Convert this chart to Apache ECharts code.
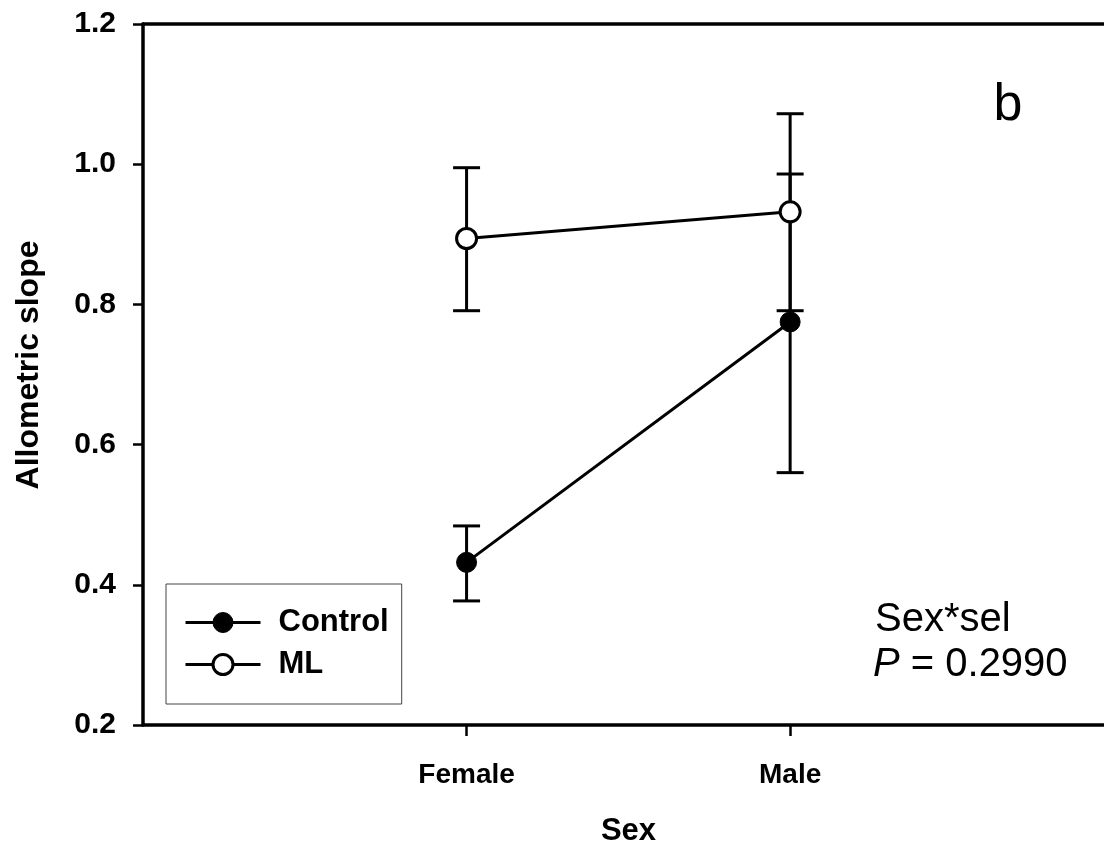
<!DOCTYPE html>
<html><head><meta charset="utf-8">
<script src="https://cdn.jsdelivr.net/npm/echarts@6/dist/echarts.min.js"></script>
<style>html,body{margin:0;padding:0;background:#fff}#c{width:1104px;height:852px}</style>
</head><body><div id="c"></div>
<script>
const categories = ['Female', 'Male'];
const seriesNames = ['Control', 'ML'];
const controlMean = [0.432, 0.775];
const controlLow = [0.377, 0.560];
const controlHigh = [0.484, 0.986];
const mlMean = [0.894, 0.932];
const mlLow = [0.791, 0.791];
const mlHigh = [0.995, 1.072];
const yMin = 0.2, yMax = 1.2, yStep = 0.2;
const xLabel = 'Sex';
const yLabel = 'Allometric slope';
const panelLetter = 'b';
const statLine1 = 'Sex*sel';
const statP = '0.2990';

const FONT = '"Liberation Sans", Arial, sans-serif';
const catPos = categories.map((c, i) => i + 1);
const xMin = 0, xMax = 2.97;

function toPoints(vals) { return vals.map((v, i) => [catPos[i], v]); }
function toBars(low, high) { return low.map((l, i) => [catPos[i], l, high[i]]); }

function renderErr(params, api) {
  const x = api.value(0);
  const lo = api.coord([x, api.value(1)]);
  const hi = api.coord([x, api.value(2)]);
  const hw = 13.5;
  const st = { stroke: '#000', lineWidth: 3, fill: null };
  return {
    type: 'group',
    children: [
      { type: 'line', shape: { x1: lo[0], y1: lo[1], x2: hi[0], y2: hi[1] }, style: st },
      { type: 'line', shape: { x1: lo[0] - hw, y1: lo[1], x2: lo[0] + hw, y2: lo[1] }, style: st },
      { type: 'line', shape: { x1: hi[0] - hw, y1: hi[1], x2: hi[0] + hw, y2: hi[1] }, style: st }
    ]
  };
}

const chart = echarts.init(document.getElementById('c'), null, { renderer: 'canvas' });
chart.setOption({
  animation: false,
  backgroundColor: '#fff',
  grid: { left: 143, top: 24, width: 961, height: 701, show: false },
  xAxis: [{
    type: 'value', min: xMin, max: xMax,
    splitLine: { show: false },
    axisLine: { show: true, onZero: false, lineStyle: { color: '#000', width: 3.5 } },
    axisTick: { show: true, customValues: catPos, length: 11, lineStyle: { color: '#000', width: 2.5 } },
    axisLabel: { customValues: catPos, formatter: v => categories[Math.round(v) - 1] || '', margin: 36,
      color: '#000', fontFamily: FONT, fontWeight: 'bold', fontSize: 28 },
    name: xLabel, nameLocation: 'middle', nameGap: 91,
    nameTextStyle: { color: '#000', fontFamily: FONT, fontWeight: 'bold', fontSize: 31, padding: [0, 0, 0, 10] }
  }, {
    type: 'value', min: xMin, max: xMax, position: 'top',
    splitLine: { show: false },
    axisLine: { show: true, onZero: false, lineStyle: { color: '#000', width: 3.5 } },
    axisTick: { show: false }, axisLabel: { show: false }
  }],
  yAxis: {
    type: 'value', min: yMin, max: yMax, interval: yStep,
    splitLine: { show: false },
    axisLine: { show: true, lineStyle: { color: '#000', width: 3.5 } },
    axisTick: { show: true, length: 10, lineStyle: { color: '#000', width: 2.5 } },
    axisLabel: { formatter: v => v.toFixed(1), margin: 27, color: '#000', fontFamily: FONT, fontWeight: 'bold', fontSize: 30 }
  },
  legend: {
    orient: 'vertical', left: 166, top: 584,
    data: [
      { name: seriesNames[0], itemStyle: { color: '#000', borderColor: '#000', borderWidth: 1 } },
      { name: seriesNames[1], itemStyle: { color: '#fff', borderColor: '#000', borderWidth: 3 } }
    ],
    itemWidth: 75, itemHeight: 25, itemGap: 11,
    padding: [23, 13, 24, 18],
    lineStyle: { color: '#000', width: 3 },
    borderColor: '#444', borderWidth: 1, backgroundColor: '#fff',
    textStyle: { color: '#000', fontFamily: FONT, fontWeight: 'bold', fontSize: 31, lineHeight: 31, padding: [0, 0, 0, 13] },
    selectedMode: false
  },
  series: [
    { type: 'custom', name: 'Control err', renderItem: renderErr, data: toBars(controlLow, controlHigh), z: 1, silent: true },
    { type: 'custom', name: 'ML err', renderItem: renderErr, data: toBars(mlLow, mlHigh), z: 1, silent: true },
    { type: 'line', name: seriesNames[0], data: toPoints(controlMean), symbol: 'circle', symbolSize: 20, z: 3,
      lineStyle: { color: '#000', width: 3 }, itemStyle: { color: '#000', borderColor: '#000', borderWidth: 1 } },
    { type: 'line', name: seriesNames[1], data: toPoints(mlMean), symbol: 'circle', symbolSize: 20, z: 3,
      lineStyle: { color: '#000', width: 3 }, itemStyle: { color: '#fff', borderColor: '#000', borderWidth: 3 } }
  ],
  graphic: [
    { type: 'text', x: 29, y: 365, rotation: Math.PI / 2,
      style: { text: yLabel, fill: '#000', font: 'bold 32px ' + FONT, textAlign: 'center', textVerticalAlign: 'middle' } },
    { type: 'text', x: 1008, y: 106,
      style: { text: panelLetter, fill: '#000', font: '52px ' + FONT, textAlign: 'center', textVerticalAlign: 'middle' } },
    { type: 'text', x: 875, y: 620,
      style: { text: statLine1, fill: '#000', font: '40px ' + FONT, textAlign: 'left', textVerticalAlign: 'middle' } },
    { type: 'text', x: 873, y: 665,
      style: { text: '{i|P} = ' + statP, fill: '#000', font: '40px ' + FONT, textAlign: 'left', textVerticalAlign: 'middle',
        rich: { i: { fontStyle: 'italic', fontSize: 40, fontFamily: FONT } } } }
  ]
});
</script></body></html>
